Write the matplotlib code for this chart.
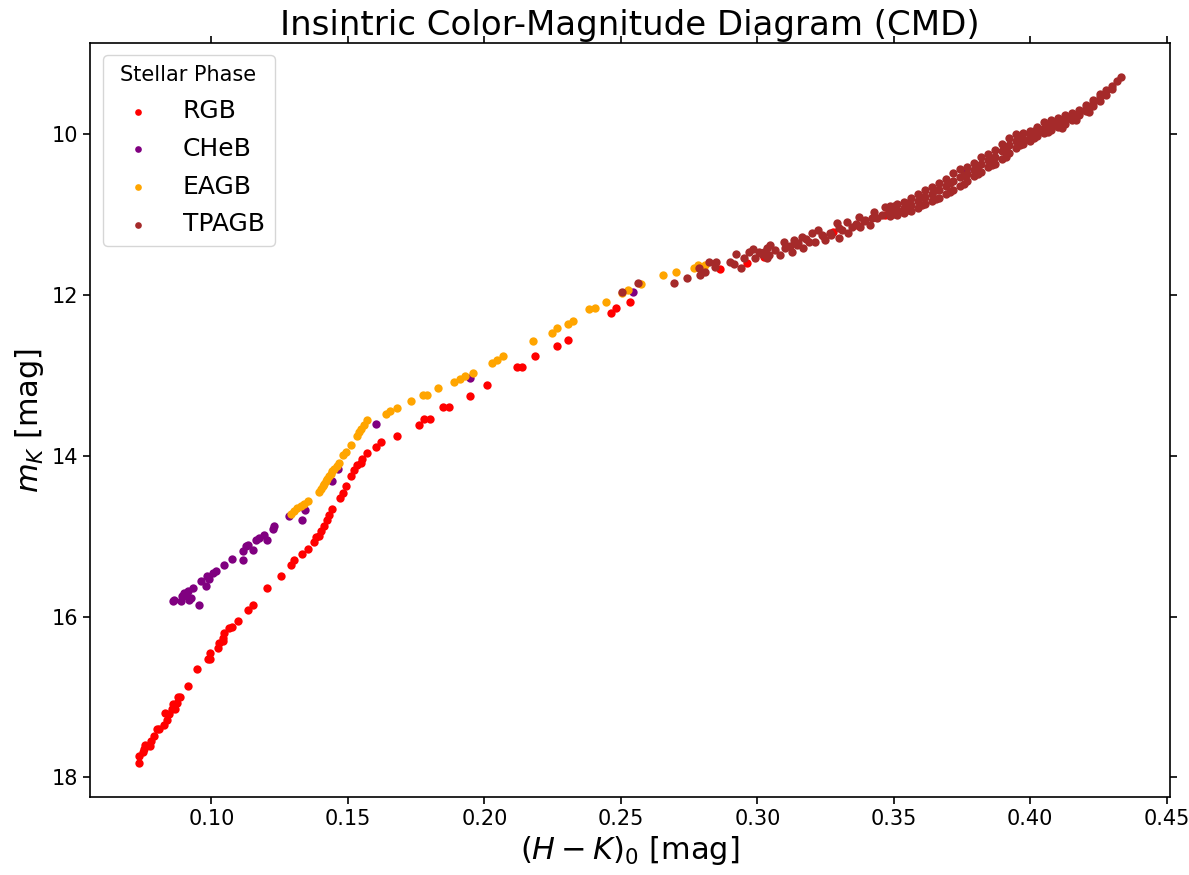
import matplotlib
matplotlib.use("Agg")
import matplotlib.pyplot as plt

# colour (H-K)_0 and magnitude m_K for each stellar phase
rgb_x = [0.0735, 0.0735, 0.0748, 0.0754, 0.0757, 0.0778, 0.0776, 0.0790, 0.0800, 0.0809,
         0.0827, 0.0837, 0.0829, 0.0845, 0.0854, 0.0866, 0.0861, 0.0873, 0.0878, 0.0885,
         0.0915, 0.0947, 0.0988, 0.0995, 0.0995, 0.1025, 0.1028, 0.1041, 0.1044, 0.1046,
         0.1065, 0.1077, 0.1096, 0.1134, 0.1154, 0.1205, 0.1254, 0.1293, 0.1303, 0.1333,
         0.1354, 0.1374, 0.1382, 0.1394, 0.1400, 0.1412, 0.1422, 0.1431, 0.1443, 0.1471,
         0.1483, 0.1492, 0.1513, 0.1522, 0.1535, 0.1547, 0.1553, 0.1571, 0.1602, 0.1623,
         0.1681, 0.1760, 0.1778, 0.1800, 0.1849, 0.1870, 0.1947, 0.2008, 0.2118, 0.2139,
         0.2187, 0.2267, 0.2306, 0.2465, 0.2484, 0.2535, 0.2862, 0.2962, 0.3023, 0.3279,
         0.3365, 0.3468]
rgb_y = [17.82, 17.735, 17.685, 17.652, 17.602, 17.549, 17.611, 17.487, 17.404, 17.404,
         17.354, 17.288, 17.196, 17.209, 17.146, 17.155, 17.093, 17.072, 16.997, 16.997,
         16.866, 16.650, 16.525, 16.451, 16.525, 16.389, 16.327, 16.307, 16.264, 16.202,
         16.140, 16.128, 16.058, 15.922, 15.851, 15.643, 15.499, 15.363, 15.292, 15.217,
         15.155, 15.077, 15.010, 15.002, 14.940, 14.878, 14.804, 14.733, 14.662, 14.525,
         14.463, 14.381, 14.248, 14.174, 14.112, 14.091, 14.041, 13.966, 13.897, 13.830,
         13.751, 13.615, 13.540, 13.540, 13.395, 13.395, 13.255, 13.118, 12.898, 12.891,
         12.766, 12.630, 12.559, 12.227, 12.165, 12.091, 11.681, 11.606, 11.524, 11.214,
         11.130, 11.006]

cheb_x = [0.0858, 0.0863, 0.0888, 0.0900, 0.0894, 0.0910, 0.0918, 0.0925, 0.0915, 0.0931,
          0.0955, 0.0961, 0.0980, 0.0983, 0.0992, 0.1004, 0.1016, 0.1046, 0.1075, 0.1116,
          0.1114, 0.1126, 0.1134, 0.1154, 0.1163, 0.1175, 0.1193, 0.1205, 0.1224, 0.1229,
          0.1284, 0.1333, 0.1342, 0.1443, 0.1462, 0.1602, 0.1949, 0.2545, 0.3765]
cheb_y = [15.810, 15.789, 15.810, 15.706, 15.739, 15.748, 15.789, 15.768, 15.686, 15.643,
          15.851, 15.561, 15.624, 15.499, 15.532, 15.457, 15.428, 15.354, 15.279, 15.292,
          15.189, 15.127, 15.105, 15.176, 15.052, 15.022, 14.981, 15.052, 14.910, 14.878,
          14.745, 14.795, 14.671, 14.310, 14.165, 13.606, 13.035, 11.966, 10.447]

eagb_x = [0.1291, 0.1303, 0.1315, 0.1327, 0.1339, 0.1352, 0.1394, 0.1400, 0.1407, 0.1412,
          0.1419, 0.1425, 0.1431, 0.1437, 0.1443, 0.1449, 0.1459, 0.1467, 0.1483, 0.1492,
          0.1510, 0.1532, 0.1541, 0.1549, 0.1559, 0.1571, 0.1638, 0.1654, 0.1679, 0.1730,
          0.1776, 0.1788, 0.1830, 0.1888, 0.1910, 0.1929, 0.1958, 0.2029, 0.2047, 0.2068,
          0.2177, 0.2246, 0.2267, 0.2306, 0.2325, 0.2385, 0.2407, 0.2445, 0.2505, 0.2525,
          0.2574, 0.2653, 0.2703, 0.2769, 0.2781, 0.2809]
eagb_y = [14.724, 14.692, 14.650, 14.621, 14.596, 14.568, 14.456, 14.414, 14.381, 14.348,
          14.319, 14.289, 14.257, 14.227, 14.195, 14.165, 14.133, 14.091, 13.987, 13.959,
          13.863, 13.760, 13.711, 13.668, 13.615, 13.561, 13.482, 13.450, 13.407, 13.325,
          13.251, 13.251, 13.164, 13.089, 13.047, 13.006, 12.973, 12.848, 12.807, 12.758,
          12.568, 12.468, 12.414, 12.360, 12.319, 12.178, 12.165, 12.091, 11.979, 11.938,
          11.863, 11.755, 11.714, 11.668, 11.627, 11.627]

tpagb_x = [0.2505, 0.2563, 0.2694, 0.2743, 0.2785, 0.2791, 0.2810, 0.2822, 0.2850, 0.2846,
           0.2899, 0.2913, 0.2923, 0.2940, 0.2950, 0.2968, 0.2984, 0.2993, 0.3005, 0.3017,
           0.3036, 0.3041, 0.3036, 0.3023, 0.3048, 0.3066, 0.3084, 0.3096, 0.3102, 0.3127,
           0.3133, 0.3145, 0.3164, 0.3169, 0.3188, 0.3200, 0.3212, 0.3224, 0.3237, 0.3249,
           0.3267, 0.3292, 0.3298, 0.3310, 0.3328, 0.3334, 0.3347, 0.3371, 0.3377, 0.3395,
           0.3414, 0.3426, 0.3438, 0.3456, 0.3469, 0.3481,
           0.3487, 0.3487, 0.3487, 0.3512, 0.3512, 0.3512, 0.3538, 0.3538, 0.3538,
           0.3564, 0.3564, 0.3564, 0.3589, 0.3589, 0.3589, 0.3615, 0.3615, 0.3615,
           0.3641, 0.3641, 0.3641, 0.3666, 0.3666, 0.3666, 0.3692, 0.3692, 0.3692,
           0.3717, 0.3717, 0.3717, 0.3743, 0.3743, 0.3743, 0.3769, 0.3769, 0.3769,
           0.3794, 0.3794, 0.3794, 0.3820, 0.3820, 0.3820, 0.3846, 0.3846, 0.3846,
           0.3871, 0.3871, 0.3871, 0.3897, 0.3897, 0.3897, 0.3922, 0.3922, 0.3922,
           0.3948, 0.3948, 0.3948, 0.3974, 0.3974, 0.3974, 0.3999, 0.3999, 0.3999,
           0.4025, 0.4025, 0.4025, 0.4051, 0.4051, 0.4051, 0.4076, 0.4076, 0.4076,
           0.4102, 0.4102, 0.4102, 0.4127, 0.4127, 0.4127, 0.4153, 0.4153, 0.4153,
           0.4179, 0.4179, 0.4179, 0.4204, 0.4204, 0.4204, 0.4230, 0.4230, 0.4230,
           0.4256, 0.4256, 0.4256, 0.4277, 0.4277, 0.4299, 0.4299, 0.4318, 0.4332,
           # second pass through the thick part of the band
           0.3500, 0.3500, 0.3551, 0.3551, 0.3602, 0.3602, 0.3654, 0.3654, 0.3705, 0.3705,
           0.3756, 0.3756, 0.3807, 0.3807, 0.3859, 0.3859, 0.3910, 0.3910, 0.3961, 0.3961,
           0.4012, 0.4012, 0.4064, 0.4064, 0.4115, 0.4115, 0.4166, 0.4166, 0.4217, 0.4217,
           0.3120, 0.3180, 0.3240, 0.3300, 0.3360, 0.3420, 0.3150, 0.3270, 0.3390]
tpagb_y = [11.959, 11.847, 11.847, 11.793, 11.668, 11.752, 11.718, 11.594, 11.586, 11.648,
           11.586, 11.619, 11.494, 11.661, 11.544, 11.470, 11.429, 11.544, 11.462, 11.494,
           11.420, 11.503, 11.544, 11.462, 11.379, 11.441, 11.503, 11.338, 11.420, 11.462,
           11.317, 11.379, 11.276, 11.420, 11.338, 11.234, 11.338, 11.193, 11.255, 11.317,
           11.234, 11.109, 11.296, 11.193, 11.089, 11.234, 11.152, 11.027, 11.152, 11.068,
           11.130, 10.965, 11.047, 11.006, 10.903, 10.965,
           10.894, 10.957, 11.019, 10.870, 10.944, 11.006, 10.845, 10.919, 10.981,
           10.795, 10.882, 10.957, 10.745, 10.832, 10.919, 10.696, 10.783, 10.870,
           10.658, 10.745, 10.832, 10.609, 10.696, 10.795, 10.559, 10.646, 10.745,
           10.484, 10.584, 10.696, 10.435, 10.534, 10.646, 10.410, 10.497, 10.584,
           10.360, 10.447, 10.522, 10.286, 10.373, 10.472, 10.248, 10.323, 10.410,
           10.199, 10.286, 10.373, 10.124, 10.211, 10.311, 10.050, 10.137, 10.236,
           10.000, 10.087, 10.174, 9.988, 10.062, 10.124, 9.963, 10.025, 10.087,
           9.913, 9.975, 10.025, 9.851, 9.925, 9.988, 9.826, 9.888, 9.950,
           9.801, 9.863, 9.913, 9.764, 9.814, 9.876, 9.739, 9.789, 9.826,
           9.702, 9.739, 9.764, 9.640, 9.677, 9.714, 9.578, 9.615, 9.652,
           9.503, 9.540, 9.590, 9.453, 9.516, 9.404, 9.441, 9.342, 9.292,
           10.900, 10.990, 10.860, 10.950, 10.780, 10.880, 10.700, 10.810, 10.610, 10.720,
           10.510, 10.620, 10.400, 10.500, 10.300, 10.390, 10.180, 10.280, 10.040, 10.140,
           9.960, 10.050, 9.910, 9.980, 9.850, 9.920, 9.760, 9.820, 9.660, 9.720,
           11.390, 11.300, 11.270, 11.170, 11.120, 11.040, 11.350, 11.260, 11.080]

phases = ["RGB", "CHeB", "EAGB", "TPAGB"]
colors = ["red", "purple", "orange", "brown"]
xs = [rgb_x, cheb_x, eagb_x, tpagb_x]
ys = [rgb_y, cheb_y, eagb_y, tpagb_y]

fig, ax = plt.subplots(figsize=(11.89, 8.75), dpi=100)
fig.subplots_adjust(left=0.0757, right=0.984, bottom=0.089, top=0.951)

for name, c, x, y in zip(phases, colors, xs, ys):
    ax.scatter(x, y, s=36, color=c, label=name, linewidths=0)

ax.invert_yaxis()
ax.set_xlabel(r"$(H-K)_0$ [mag]", fontsize=22)
ax.set_ylabel(r"$m_K$ [mag]", fontsize=22)
ax.set_title("Insintric Color-Magnitude Diagram (CMD)", fontsize=24.5)
ax.tick_params(top=True, right=True, labelsize=15, length=5, width=1.2)
for sp in ax.spines.values():
    sp.set_linewidth(1.2)

ax.legend(title="Stellar Phase", fontsize=18, title_fontsize=15, loc="upper left",
          markerscale=0.8, labelspacing=0.55)

plt.savefig("out.png", dpi=100)
